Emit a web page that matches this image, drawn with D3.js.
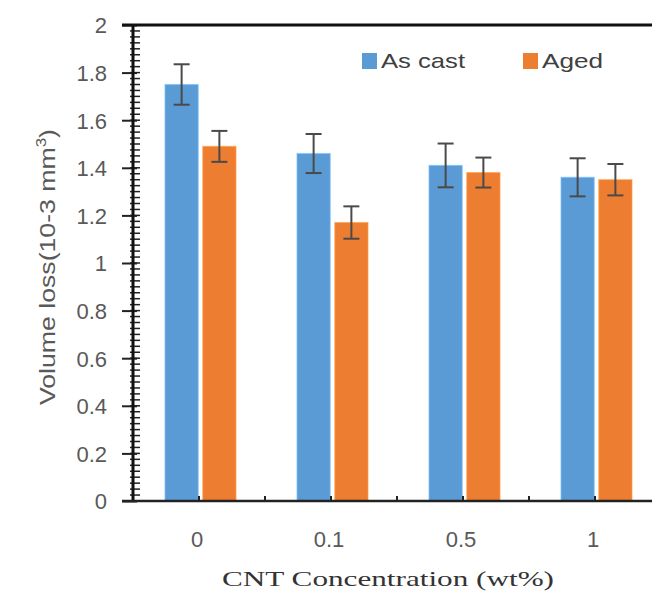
<!DOCTYPE html>
<html>
<head>
<meta charset="utf-8">
<script src="https://cdn.jsdelivr.net/npm/d3@7"></script>
<style>
  html, body { margin: 0; padding: 0; background: #fff; }
  svg { display: block; }
</style>
</head>
<body>
<svg id="chart" width="652" height="597"></svg>
<script>
const categories = ["0", "0.1", "0.5", "1"];
const seriesNames = ["As cast", "Aged"];
const asCast = [1.75, 1.46, 1.41, 1.36];
const asCastErr = [0.085, 0.082, 0.092, 0.08];
const aged = [1.49, 1.17, 1.38, 1.35];
const agedErr = [0.065, 0.068, 0.063, 0.066];
const yTicks = [0, 0.2, 0.4, 0.6, 0.8, 1, 1.2, 1.4, 1.6, 1.8, 2];
const colors = ["#5B9BD5", "#ED7D31"];

(function () {
const svg = d3.select("#chart");
const pLeft = 133, pTop = 25, pBottom = 501, bandW = 132;
const sans = "Liberation Sans, Arial, sans-serif";

const x = d3.scaleBand().domain(categories).range([pLeft, pLeft + bandW * categories.length]).padding(0);
const x1 = d3.scaleBand().domain(seriesNames).range([32, 103]).paddingInner(0.12);
const y = d3.scaleLinear().domain([0, 2]).range([pBottom, pTop]);

const data = categories.map((c, i) => ({
  cat: c,
  vals: [
    { s: seriesNames[0], v: asCast[i], e: asCastErr[i], c: colors[0] },
    { s: seriesNames[1], v: aged[i], e: agedErr[i], c: colors[1] }
  ]
}));

// bars
const groups = svg.append("g").selectAll("g.cat").data(data).join("g")
  .attr("transform", d => `translate(${x(d.cat)},0)`);
groups.selectAll("rect").data(d => d.vals).join("rect")
  .attr("x", d => x1(d.s))
  .attr("y", d => y(d.v))
  .attr("width", x1.bandwidth())
  .attr("height", d => y(0) - y(d.v))
  .attr("fill", d => d.c)
  .attr("stroke", d => d3.color(d.c).brighter(0.6))
  .attr("stroke-width", 1.2)
  .attr("stroke-opacity", 0.6);

// error bars
const eb = groups.selectAll("g.err").data(d => d.vals).join("g")
  .attr("stroke", "#4a4a4a").attr("stroke-width", 2);
const cx = d => x1(d.s) + x1.bandwidth() / 2;
eb.append("line")
  .attr("x1", cx).attr("x2", cx)
  .attr("y1", d => y(d.v + d.e)).attr("y2", d => y(d.v - d.e));
eb.append("line")
  .attr("x1", d => cx(d) - 8).attr("x2", d => cx(d) + 8)
  .attr("y1", d => y(d.v + d.e)).attr("y2", d => y(d.v + d.e));
eb.append("line")
  .attr("x1", d => cx(d) - 8).attr("x2", d => cx(d) + 8)
  .attr("y1", d => y(d.v - d.e)).attr("y2", d => y(d.v - d.e));

// minor ticks on y
const minor = d3.range(0, 2.0001, 0.025);
svg.append("g").selectAll("line").data(minor).join("line")
  .attr("x1", pLeft - 3).attr("x2", pLeft + 7)
  .attr("y1", d => y(d)).attr("y2", d => y(d))
  .attr("stroke", "#222").attr("stroke-width", 1.5);

// y axis major
const yAxis = d3.axisLeft(y).tickValues(yTicks).tickSize(15).tickPadding(15)
  .tickFormat(d => d3.format("")(+d.toFixed(1)));
const ya = svg.append("g").attr("transform", `translate(${pLeft + 4},0)`).call(yAxis);
ya.select(".domain").remove();
ya.selectAll(".tick line").attr("stroke", "#222").attr("stroke-width", 2);
ya.selectAll(".tick text").attr("font-family", sans)
  .attr("font-size", 22).attr("fill", "#595959").attr("dy", "0.36em");

// axis lines
svg.append("line").attr("x1", pLeft).attr("x2", pLeft).attr("y1", pTop).attr("y2", pBottom)
  .attr("stroke", "#111").attr("stroke-width", 3);
svg.append("line").attr("x1", pLeft - 11).attr("x2", 652).attr("y1", pTop).attr("y2", pTop)
  .attr("stroke", "#111").attr("stroke-width", 3);
svg.append("line").attr("x1", pLeft - 11).attr("x2", 652).attr("y1", pBottom).attr("y2", pBottom)
  .attr("stroke", "#222").attr("stroke-width", 2.5);

// x tick marks (category centers and boundaries)
const xt = [];
categories.forEach(c => { xt.push(x(c) + x.bandwidth() / 2); xt.push(x(c) + x.bandwidth()); });
svg.append("g").selectAll("line").data(xt).join("line")
  .attr("x1", d => d).attr("x2", d => d).attr("y1", pBottom).attr("y2", pBottom - 5)
  .attr("stroke", "#222").attr("stroke-width", 2);

// x labels
svg.append("g").selectAll("text").data(categories).join("text")
  .attr("x", d => x(d) + x.bandwidth() / 2 - 2)
  .attr("y", 547)
  .attr("text-anchor", "middle")
  .attr("font-family", sans)
  .attr("font-size", 22).attr("fill", "#595959")
  .text(d => d);

// x title
svg.append("text").attr("x", 388).attr("y", 586).attr("text-anchor", "middle")
  .attr("font-family", "Liberation Serif, Times New Roman, serif")
  .attr("font-size", 22).attr("fill", "#333")
  .attr("textLength", 332).attr("lengthAdjust", "spacingAndGlyphs")
  .text("CNT Concentration (wt%)");

// y title
const yt = svg.append("text").attr("transform", "translate(55,267) rotate(-90)")
  .attr("text-anchor", "middle")
  .attr("font-family", sans)
  .attr("font-size", 22).attr("fill", "#595959")
  .attr("textLength", 276).attr("lengthAdjust", "spacingAndGlyphs");
yt.append("tspan").text("Volume loss(10-3 mm");
yt.append("tspan").attr("dy", -9).attr("font-size", 14).text("3");
yt.append("tspan").attr("dy", 9).text(")");

// legend
const leg = svg.append("g");
const legX = [362, 523];
const legW = [84, 61];
seriesNames.forEach((s, i) => {
  leg.append("rect").attr("x", legX[i]).attr("y", 53).attr("width", 15).attr("height", 16).attr("fill", colors[i]);
  leg.append("text").attr("x", legX[i] + 19).attr("y", 68)
    .attr("font-family", sans)
    .attr("font-size", 21).attr("fill", "#404040")
    .attr("textLength", legW[i]).attr("lengthAdjust", "spacingAndGlyphs")
    .text(s);
});
})();
</script>
</body>
</html>
